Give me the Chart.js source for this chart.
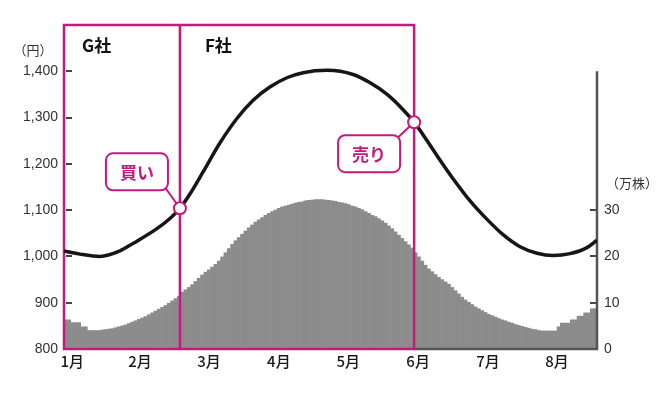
<!DOCTYPE html>
<html>
<head>
<meta charset="utf-8">
<script src="https://cdn.jsdelivr.net/npm/chart.js@4"></script>
<style>
  html, body { margin: 0; padding: 0; background: #fff; }
  #wrap { width: 670px; height: 395px; }
</style>
</head>
<body>
<div id="wrap"><canvas id="c" width="670" height="395"></canvas></div>
<script>
/* === DATA === */
// volume bars (万株), one per trading day
const volume = [
  6.3, 6.3, 5.7, 5.7, 5.7, 4.8, 4.8, 4.0, 4.0, 4.0,
  4.0, 4.1, 4.2, 4.3, 4.4, 4.6, 4.8, 5.0, 5.2, 5.5,
  5.8, 6.1, 6.4, 6.7, 7.0, 7.4, 7.8, 8.2, 8.6, 9.0,
  9.4, 9.9, 10.4, 10.9, 11.4, 12.3, 12.8, 13.3, 13.9, 14.6,
  15.3, 16.0, 16.6, 17.1, 17.7, 18.3, 19.0, 19.9, 20.8, 21.7,
  22.6, 23.4, 24.1, 24.8, 25.5, 26.2, 26.8, 27.4, 27.9, 28.4,
  28.9, 29.3, 29.7, 30.0, 30.4, 30.7, 30.9, 31.1, 31.3, 31.5,
  31.7, 31.8, 32.0, 32.1, 32.2, 32.3, 32.3, 32.3, 32.2, 32.1,
  32.0, 31.9, 31.7, 31.6, 31.4, 31.2, 30.9, 30.7, 30.4, 30.1,
  29.7, 29.3, 28.9, 28.6, 28.2, 27.7, 27.2, 26.6, 26.0, 25.3,
  24.6, 23.9, 23.2, 22.5, 21.8, 20.8, 19.9, 19.0, 18.1, 17.3,
  16.7, 16.1, 15.5, 15.0, 14.5, 14.0, 13.3, 12.6, 11.9, 11.2,
  10.6, 10.1, 9.6, 9.1, 8.7, 8.3, 7.9, 7.5, 7.2, 6.9,
  6.6, 6.3, 6.1, 5.8, 5.6, 5.3, 5.1, 4.9, 4.7, 4.5,
  4.3, 4.2, 4.0, 3.9, 3.9, 3.9, 3.9, 3.9, 4.8, 5.6,
  5.6, 5.6, 6.3, 6.3, 7.1, 7.1, 7.8, 7.8, 8.7, 8.7
];

// price line (円): day position / price
const priceDay = [-0.5, 4.3, 10.3, 16.3, 20.2, 27.4, 31.3, 34.3, 37.3, 41.2,
  46.3, 51.4, 56.2, 61.3, 66.4, 71.3, 78.5, 86.3, 91.4, 96.5,
  101.3, 104.6, 108.5, 112.4, 116.3, 121.4, 126.5, 131.3, 136.4, 141.5,
  146.3, 151.4, 156.5, 159.5];
const price = [1012, 1005, 1000, 1012, 1028, 1060, 1082, 1104, 1135, 1182,
  1245, 1298, 1337, 1366, 1386, 1397, 1402, 1393, 1375, 1350,
  1317, 1290, 1250, 1208, 1168, 1120, 1080, 1047, 1021, 1007,
  1002, 1006, 1019, 1035];

// month ticks on the day axis
const monthDay = [2, 22.3, 43, 64, 84.8, 105.8, 126.8, 147.5];
const monthLabels = ['1月', '2月', '3月', '4月', '5月', '6月', '7月', '8月'];

// left / right tick labels
const priceTicks = [800, 900, 1000, 1100, 1200, 1300, 1400];
const volumeTicks = [0, 10, 20, 30];
const volumeAxisTop = 60;

// trade signals
const tradeDay = [34.3, 104.6];
const tradePrice = [1104, 1290];
const tradeLabels = ['買い', '売り'];
const companyLabels = ['G社', 'F社'];

/* === COLORS === */
const PINK = '#c5197d';
const BAR = '#8c8c8c';
const AXIS = '#555555';
const TEXT = '#333333';
const JP = '"Noto Sans CJK JP", "Noto Sans", sans-serif';

function roundRect(ctx, x, y, w, h, r) {
  ctx.beginPath();
  ctx.moveTo(x + r, y);
  ctx.lineTo(x + w - r, y);
  ctx.arcTo(x + w, y, x + w, y + r, r);
  ctx.lineTo(x + w, y + h - r);
  ctx.arcTo(x + w, y + h, x + w - r, y + h, r);
  ctx.lineTo(x + r, y + h);
  ctx.arcTo(x, y + h, x, y + h - r, r);
  ctx.lineTo(x, y + r);
  ctx.arcTo(x, y, x + r, y, r);
  ctx.closePath();
}

/* === DECORATION PLUGIN === */
const decor = {
  id: 'decor',
  afterDatasetDraw(chart, args) {
    if (args.index !== 0) return;
    const { ctx, chartArea: a, scales } = chart;
    const xs = scales.x, yL = scales.yL, yR = scales.yR;
    const xBuy = xs.getPixelForValue(tradeDay[0]);
    const xSell = xs.getPixelForValue(tradeDay[1]);
    ctx.save();
    // axis ticks (inward)
    ctx.strokeStyle = '#444';
    ctx.lineWidth = 2;
    priceTicks.forEach(v => {
      const y = Math.round(yL.getPixelForValue(v));
      ctx.beginPath(); ctx.moveTo(a.left + 2, y); ctx.lineTo(a.left + 8, y); ctx.stroke();
    });
    volumeTicks.forEach(v => {
      const y = Math.round(yR.getPixelForValue(v));
      ctx.beginPath(); ctx.moveTo(a.right - 7, y); ctx.lineTo(a.right, y); ctx.stroke();
    });
    // gray axis (right + bottom after the box)
    ctx.strokeStyle = AXIS;
    ctx.lineWidth = 2.5;
    ctx.beginPath();
    ctx.moveTo(xSell, a.bottom);
    ctx.lineTo(a.right, a.bottom);
    ctx.lineTo(a.right, yR.getPixelForValue(volumeAxisTop));
    ctx.stroke();
    // pink box
    ctx.strokeStyle = PINK;
    ctx.lineWidth = 2.5;
    ctx.strokeRect(a.left, a.top, xSell - a.left, a.bottom - a.top);
    ctx.beginPath();
    ctx.moveTo(xBuy, a.top); ctx.lineTo(xBuy, a.bottom); ctx.stroke();
    ctx.restore();
  },
  afterDatasetsDraw(chart) {
    const { ctx, chartArea: a, scales } = chart;
    const xs = scales.x, yL = scales.yL, yR = scales.yR;
    ctx.save();
    // callouts
    tradeDay.forEach((d, i) => {
      const cx = xs.getPixelForValue(d);
      const cy = yL.getPixelForValue(tradePrice[i]);
      const w = 62, h = 37;
      let bx, by, kx, ky;
      if (i === 0) { bx = cx - 12 - w; by = cy - 18 - h; kx = bx + w - 3; ky = by + h - 3; }
      else { bx = cx - 14 - w; by = cy + 13; kx = bx + w - 3; ky = by + 3; }
      ctx.strokeStyle = PINK;
      ctx.lineWidth = 2;
      ctx.beginPath(); ctx.moveTo(kx, ky); ctx.lineTo(cx, cy); ctx.stroke();
      roundRect(ctx, bx, by, w, h, 7);
      ctx.fillStyle = '#fff'; ctx.fill(); ctx.stroke();
      ctx.fillStyle = PINK;
      ctx.font = 'bold 17px ' + JP;
      ctx.textAlign = 'center';
      ctx.textBaseline = 'middle';
      ctx.fillText(tradeLabels[i], bx + w / 2, by + h / 2 + 1);
      ctx.beginPath();
      ctx.arc(cx, cy, 6, 0, Math.PI * 2);
      ctx.fillStyle = '#fff'; ctx.fill();
      ctx.lineWidth = 2; ctx.stroke();
    });
    // company labels
    ctx.fillStyle = '#111';
    ctx.font = 'bold 17px ' + JP;
    ctx.textAlign = 'left';
    ctx.textBaseline = 'middle';
    ctx.fillText(companyLabels[0], a.left + 18, a.top + 21);
    ctx.fillText(companyLabels[1], xs.getPixelForValue(tradeDay[0]) + 25, a.top + 21);
    // units
    ctx.fillStyle = TEXT;
    ctx.font = '13px ' + JP;
    ctx.textAlign = 'center';
    ctx.fillText('（円）', a.left - 31, yL.getPixelForValue(1400) - 21);
    ctx.fillText('（万株）', a.right + 35, yR.getPixelForValue(30) - 27);
    ctx.restore();
  }
};

/* === CHART === */
new Chart(document.getElementById('c'), {
  data: {
    datasets: [
      {
        type: 'bar',
        yAxisID: 'yR',
        data: volume.map((v, i) => ({ x: i, y: v })),
        backgroundColor: BAR,
        borderWidth: 0,
        barPercentage: 1,
        categoryPercentage: 1,
        order: 1
      },
      {
        type: 'line',
        yAxisID: 'yL',
        data: priceDay.map((d, i) => ({ x: d, y: price[i] })),
        borderColor: '#1a1416',
        borderWidth: 3.5,
        pointRadius: 0,
        cubicInterpolationMode: 'monotone',
        fill: false,
        order: 0
      }
    ]
  },
  options: {
    responsive: false,
    animation: false,
    layout: { padding: { top: 25, left: 0, right: 0, bottom: 0 } },
    plugins: { legend: { display: false }, tooltip: { enabled: false } },
    scales: {
      x: {
        type: 'linear',
        offset: false,
        min: -0.5,
        max: 159.5,
        grid: { display: false, offset: false, drawTicks: false },
        border: { display: false },
        afterBuildTicks: s => { s.ticks = monthDay.map(v => ({ value: v })); },
        afterFit: s => { s.height = 46; },
        ticks: {
          autoSkip: false,
          maxRotation: 0,
          padding: 3,
          color: '#1a1a1a',
          font: { family: JP, size: 15, weight: '500' },
          callback: (v, i) => monthLabels[i]
        }
      },
      yL: {
        position: 'left',
        min: 800,
        max: 1500,
        grid: { display: false, drawTicks: false },
        border: { display: false },
        afterBuildTicks: s => { s.ticks = priceTicks.map(v => ({ value: v })); },
        afterFit: s => { s.width = 64; },
        ticks: {
          padding: 6,
          color: TEXT,
          font: { family: '"Liberation Sans", Arial, sans-serif', size: 14 },
          callback: v => v.toLocaleString('en-US')
        }
      },
      yR: {
        position: 'right',
        min: 0,
        max: 70,
        grid: { display: false, drawTicks: false },
        border: { display: false },
        afterBuildTicks: s => { s.ticks = volumeTicks.map(v => ({ value: v })); },
        afterFit: s => { s.width = 73; },
        ticks: {
          padding: 7,
          color: TEXT,
          font: { family: '"Liberation Sans", Arial, sans-serif', size: 14 }
        }
      }
    }
  },
  plugins: [decor]
});
</script>
</body>
</html>
